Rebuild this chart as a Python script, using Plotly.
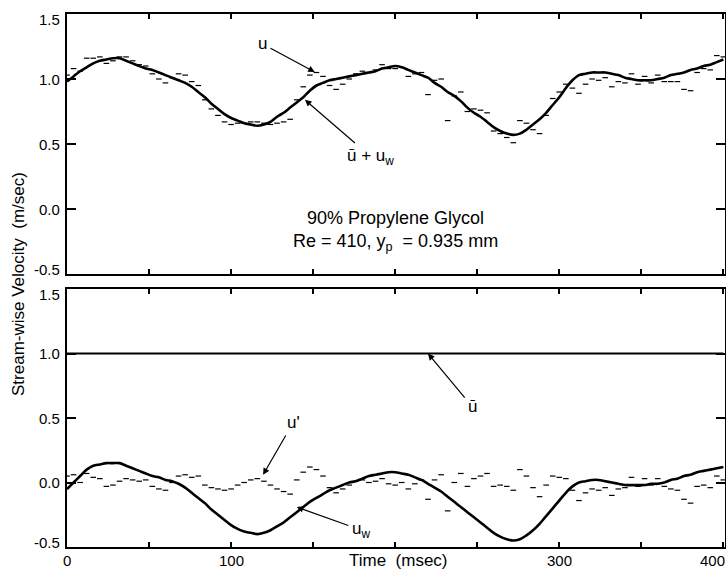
import numpy as np
import plotly.graph_objects as go

# ---------------- data ----------------
time_ms = list(range(0, 401, 4))  # 0 .. 400 ms, 4 ms steps

# top panel: solid curve  u_bar + u_w
u_bar_plus_uw = [
    0.98, 1.02, 1.06, 1.09, 1.12, 1.14, 1.15, 1.16, 1.16, 1.14,
    1.12, 1.10, 1.08, 1.07, 1.05, 1.03, 1.01, 0.99, 0.97, 0.94,
    0.90, 0.86, 0.81, 0.77, 0.73, 0.70, 0.68, 0.66, 0.65, 0.64,
    0.65, 0.67, 0.71, 0.74, 0.78, 0.82, 0.86, 0.91, 0.95, 0.97,
    0.99, 1.00, 1.01, 1.02, 1.03, 1.04, 1.05, 1.06, 1.08, 1.09,
    1.10, 1.09, 1.07, 1.05, 1.03, 1.01, 0.97, 0.94, 0.90, 0.87,
    0.83, 0.78, 0.74, 0.71, 0.67, 0.63, 0.60, 0.58, 0.57, 0.58,
    0.61, 0.65, 0.69, 0.74, 0.80, 0.86, 0.93, 0.99, 1.03, 1.04,
    1.05, 1.05, 1.05, 1.04, 1.03, 1.01, 1.00, 0.99, 0.99, 0.99,
    1.00, 1.01, 1.03, 1.04, 1.05, 1.07, 1.08, 1.10, 1.11, 1.13,
    1.15,
]

# bottom panel: wave component u_w
u_w = [
    -0.05, 0.00, 0.05, 0.10, 0.13, 0.14, 0.15, 0.15, 0.15, 0.13,
    0.11, 0.09, 0.07, 0.05, 0.04, 0.02, 0.01, -0.01, -0.04, -0.08,
    -0.12, -0.16, -0.21, -0.25, -0.29, -0.33, -0.36, -0.38, -0.39, -0.40,
    -0.39, -0.37, -0.34, -0.31, -0.27, -0.23, -0.19, -0.15, -0.12, -0.09,
    -0.06, -0.04, -0.02, 0.00, 0.01, 0.03, 0.05, 0.06, 0.07, 0.08,
    0.08, 0.07, 0.06, 0.04, 0.02, -0.01, -0.04, -0.07, -0.11, -0.15,
    -0.19, -0.23, -0.27, -0.31, -0.35, -0.39, -0.42, -0.44, -0.45, -0.44,
    -0.41, -0.37, -0.32, -0.26, -0.20, -0.14, -0.08, -0.03, 0.00, 0.01,
    0.02, 0.02, 0.01, 0.00, -0.01, -0.02, -0.02, -0.02, -0.02, -0.01,
    -0.01, 0.00, 0.02, 0.03, 0.05, 0.06, 0.08, 0.09, 0.10, 0.11,
    0.12,
]

# bottom panel: turbulent fluctuation u'
u_prime = [
    0.05, 0.06, 0.00, 0.07, 0.04, 0.03, -0.03, -0.02, 0.01, 0.03,
    0.02, 0.01, 0.02, -0.03, -0.05, -0.06, 0.00, 0.05, 0.06, 0.04,
    0.05, -0.02, -0.04, -0.05, -0.06, -0.05, -0.02, 0.00, 0.02, 0.03,
    0.01, -0.02, -0.05, -0.07, -0.09, 0.02, 0.08, 0.12, 0.10, 0.05,
    -0.04, -0.08, -0.05, -0.02, 0.01, 0.02, 0.00, 0.01, 0.03, -0.01,
    -0.02, 0.00, -0.05, -0.01, 0.02, -0.13, 0.02, 0.06, -0.22, 0.00,
    0.07, -0.03, 0.03, 0.05, 0.07, -0.03, -0.02, -0.03, -0.06, 0.10,
    0.05, -0.04, -0.11, -0.02, 0.05, 0.04, 0.03, -0.06, -0.14, -0.08,
    -0.05, -0.06, -0.04, -0.10, -0.05, -0.04, 0.04, -0.03, 0.03, -0.02,
    0.03, -0.03, -0.05, -0.06, -0.13, -0.16, -0.03, -0.02, -0.04, 0.05,
    0.02,
]

# mean velocity u_bar
u_bar_value = 1.0
u_bar = [u_bar_value] * len(time_ms)

# measured velocity u = (u_bar + u_w) + u'
u_measured = list(np.array(u_bar_plus_uw) + np.array(u_prime))

x_tick_vals = [0, 100, 300, 400]
x_tick_text = ["0", "100", "300", "400"]
x_minor_vals = [0, 50, 100, 150, 200, 250, 300, 350, 400]
y_tick_vals = [-0.5, 0.0, 0.5, 1.0, 1.5]
y_tick_text = ["-0.5", "0.0", "0.5", "1.0", "1.5"]

# ---------------- figure ----------------
W, H = 726, 571
FONT = "Liberation Sans, Arial, Helvetica, sans-serif"
BLACK = "#000000"

fig = go.Figure()

dash_marker = dict(symbol="line-ew", size=4, color=BLACK,
                   line=dict(color=BLACK, width=1.2))

# top panel
fig.add_trace(go.Scatter(x=time_ms, y=u_measured, mode="markers",
                         marker=dash_marker, xaxis="x2", yaxis="y2",
                         showlegend=False, hoverinfo="skip"))
fig.add_trace(go.Scatter(x=time_ms, y=u_bar_plus_uw, mode="lines",
                         line=dict(color=BLACK, width=2.6, shape="spline"),
                         xaxis="x2", yaxis="y2", showlegend=False))

# bottom panel
fig.add_trace(go.Scatter(x=time_ms, y=u_bar, mode="lines",
                         line=dict(color=BLACK, width=2.2),
                         xaxis="x", yaxis="y", showlegend=False))
fig.add_trace(go.Scatter(x=time_ms, y=u_prime, mode="markers",
                         marker=dash_marker, xaxis="x", yaxis="y",
                         showlegend=False, hoverinfo="skip"))
fig.add_trace(go.Scatter(x=time_ms, y=u_w, mode="lines",
                         line=dict(color=BLACK, width=2.6, shape="spline"),
                         xaxis="x", yaxis="y", showlegend=False))

x0, x1 = 67 / W, 725 / W
top_px = (14, 274)
bot_px = (289, 547)
top_dom = [1 - top_px[1] / H, 1 - top_px[0] / H]
bot_dom = [1 - bot_px[1] / H, 1 - bot_px[0] / H]

common_x = dict(range=[0, 401], domain=[x0, x1], tickmode="array",
                tickvals=x_tick_vals, ticks="inside", ticklen=5, tickwidth=1.5,
                tickcolor=BLACK, showline=True, linecolor=BLACK, linewidth=1.8,
                mirror="ticks", showgrid=False, zeroline=False,
                showticklabels=False,
                minor=dict(tickvals=x_minor_vals, ticks="inside", ticklen=5,
                           tickwidth=1.5, tickcolor=BLACK, showgrid=False))
common_y = dict(range=[-0.5, 1.5], tickmode="array", tickvals=y_tick_vals,
                ticks="inside", ticklen=9, tickwidth=1.5,
                tickcolor=BLACK, showline=True, linecolor=BLACK, linewidth=1.8,
                mirror="ticks", showgrid=False, zeroline=False,
                showticklabels=False)

fig.update_layout(
    width=W, height=H,
    margin=dict(l=0, r=0, t=0, b=0),
    paper_bgcolor="white", plot_bgcolor="white",
    font=dict(family=FONT, color=BLACK),
    xaxis=dict(**common_x, anchor="y"),
    yaxis=dict(**common_y, domain=bot_dom, anchor="x"),
    xaxis2=dict(**common_x, anchor="y2", matches="x"),
    yaxis2=dict(**common_y, domain=top_dom, anchor="x2"),
)

tick_font = dict(family=FONT, size=15, color=BLACK)
ann_font = dict(family=FONT, size=17, color=BLACK)
arrow = dict(showarrow=True, arrowhead=2, arrowsize=1.1, arrowwidth=1.2,
             arrowcolor=BLACK, standoff=0, startstandoff=2)

annotations = []

# y tick labels (end labels nudged inward as in the original)
for yref in ("y", "y2"):
    for v, t in zip(y_tick_vals, y_tick_text):
        shift = -5 if v == 1.5 else (5 if v == -0.5 else 0)
        annotations.append(dict(text=t, x=62 / W, xref="paper", y=v, yref=yref,
                                xanchor="right", yanchor="middle", yshift=shift,
                                showarrow=False, font=tick_font))

# x tick labels on bottom panel
label_y = 1 - 560 / H
for v, t in zip(x_tick_vals, x_tick_text):
    anchor = "right" if v == 400 else "center"
    xs = 4 if v == 400 else 0
    annotations.append(dict(text=t, x=v, xref="x", y=label_y, yref="paper",
                            xanchor=anchor, yanchor="middle", xshift=xs,
                            showarrow=False, font=tick_font))

annotations += [
    # axis titles
    dict(text="Time  (msec)", x=202, xref="x", y=label_y, yref="paper",
         showarrow=False, font=dict(family=FONT, size=17, color=BLACK),
         xanchor="center", yanchor="middle"),
    dict(text="Stream-wise Velocity  (m/sec)", x=18 / W, xref="paper",
         y=1 - 284 / H, yref="paper", textangle=-90, showarrow=False,
         font=dict(family=FONT, size=17, color=BLACK),
         xanchor="center", yanchor="middle"),
    # experiment description
    dict(text="90% Propylene Glycol<br>Re = 410, y<sub>p</sub>  = 0.935 mm",
         x=200, xref="x2", y=1 - 231 / H, yref="paper", showarrow=False,
         font=dict(family=FONT, size=18, color=BLACK), align="center",
         xanchor="center", yanchor="middle"),
    # top panel labels
    dict(text="u", x=151, xref="x2", y=1.054, yref="y2", ax=-52, ay=-28,
         font=ann_font, **arrow),
    dict(text="ū + u<sub>w</sub>", x=145, xref="x2", y=0.84, yref="y2",
         ax=66, ay=57, font=ann_font, **arrow),
    # bottom panel labels
    dict(text="ū", x=220, xref="x", y=1.0, yref="y", ax=44, ay=53,
         font=ann_font, **arrow),
    dict(text="u'", x=119.5, xref="x", y=0.06, yref="y", ax=30, ay=-52,
         font=ann_font, **arrow),
    dict(text="u<sub>w</sub>", x=140, xref="x", y=-0.19, yref="y",
         ax=64, ay=23, font=ann_font, **arrow),
]
fig.update_layout(annotations=annotations)

fig.write_html("out.html")
